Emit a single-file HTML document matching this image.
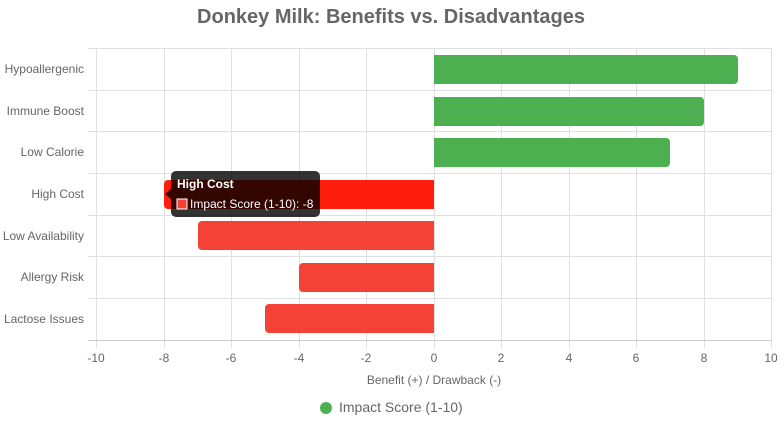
<!DOCTYPE html>
<html><head><style>
body{margin:0;background:#fff;}
svg{display:block;font-family:"Liberation Sans",Arial,sans-serif;}
</style></head><body>
<svg width="782" height="425" viewBox="0 0 782 425">
<text x="391" y="23" text-anchor="middle" font-size="20" font-weight="bold" fill="#666">Donkey Milk: Benefits vs. Disadvantages</text>
<g stroke="#e0e0e0" stroke-width="1">
<line x1="96.5" y1="48" x2="96.5" y2="348"/><line x1="164.5" y1="48" x2="164.5" y2="348"/>
<line x1="231.5" y1="48" x2="231.5" y2="348"/><line x1="299.5" y1="48" x2="299.5" y2="348"/>
<line x1="366.5" y1="48" x2="366.5" y2="348"/><line x1="434.5" y1="48" x2="434.5" y2="348"/>
<line x1="501.5" y1="48" x2="501.5" y2="348"/><line x1="569.5" y1="48" x2="569.5" y2="348"/>
<line x1="636.5" y1="48" x2="636.5" y2="348"/><line x1="704.5" y1="48" x2="704.5" y2="348"/>
<line x1="771.5" y1="48" x2="771.5" y2="348"/>
<line x1="88" y1="48.5" x2="772" y2="48.5"/><line x1="88" y1="90.5" x2="772" y2="90.5"/>
<line x1="88" y1="131.5" x2="772" y2="131.5"/><line x1="88" y1="173.5" x2="772" y2="173.5"/>
<line x1="88" y1="215.5" x2="772" y2="215.5"/><line x1="88" y1="256.5" x2="772" y2="256.5"/>
<line x1="88" y1="298.5" x2="772" y2="298.5"/>
</g>
<line x1="88" y1="340.5" x2="772" y2="340.5" stroke="#ccc"/>
<g fill="#4caf50">
<path d="M434 55h300a4 4 0 0 1 4 4v21a4 4 0 0 1-4 4h-300z"/>
<path d="M434 97h266a4 4 0 0 1 4 4v21a4 4 0 0 1-4 4h-266z"/>
<path d="M434 138h232a4 4 0 0 1 4 4v21a4 4 0 0 1-4 4h-232z"/>
</g>
<path d="M434 180h-266a4 4 0 0 0-4 4v21a4 4 0 0 0 4 4h266z" fill="#ff1e0e"/>
<g fill="#f44336">
<path d="M434 221h-232a4 4 0 0 0-4 4v21a4 4 0 0 0 4 4h232z"/>
<path d="M434 263h-131a4 4 0 0 0-4 4v21a4 4 0 0 0 4 4h131z"/>
<path d="M434 304h-165a4 4 0 0 0-4 4v21a4 4 0 0 0 4 4h165z"/>
</g>
<g font-size="12" fill="#666" text-anchor="end">
<text x="84" y="73">Hypoallergenic</text><text x="84" y="115">Immune Boost</text>
<text x="84" y="156">Low Calorie</text><text x="84" y="198">High Cost</text>
<text x="84" y="240">Low Availability</text><text x="84" y="281">Allergy Risk</text>
<text x="84" y="323">Lactose Issues</text>
</g>
<g font-size="12" fill="#666" text-anchor="middle">
<text x="96" y="362">-10</text><text x="164" y="362">-8</text><text x="231" y="362">-6</text>
<text x="299" y="362">-4</text><text x="366" y="362">-2</text><text x="434" y="362">0</text>
<text x="501" y="362">2</text><text x="569" y="362">4</text><text x="636" y="362">6</text>
<text x="704" y="362">8</text><text x="771" y="362">10</text>
<text x="434" y="384">Benefit (+) / Drawback (-)</text>
</g>
<circle cx="326" cy="408" r="6" fill="#4caf50"/>
<text x="339" y="412" font-size="14" fill="#666">Impact Score (1-10)</text>
<path d="M176 171h139a5 5 0 0 1 5 5v36a5 5 0 0 1-5 5h-139a5 5 0 0 1-5-5v-13l-6-5 6-5v-13a5 5 0 0 1 5-5z" fill="#000" fill-opacity="0.8"/>
<text x="177" y="188" font-size="12" font-weight="bold" fill="#fff">High Cost</text>
<rect x="177" y="199" width="10" height="10" fill="#f44336" stroke="#fff" stroke-width="1"/>
<text x="190" y="208" font-size="12" fill="#fff">Impact Score (1-10): -8</text>
</svg>
</body></html>
